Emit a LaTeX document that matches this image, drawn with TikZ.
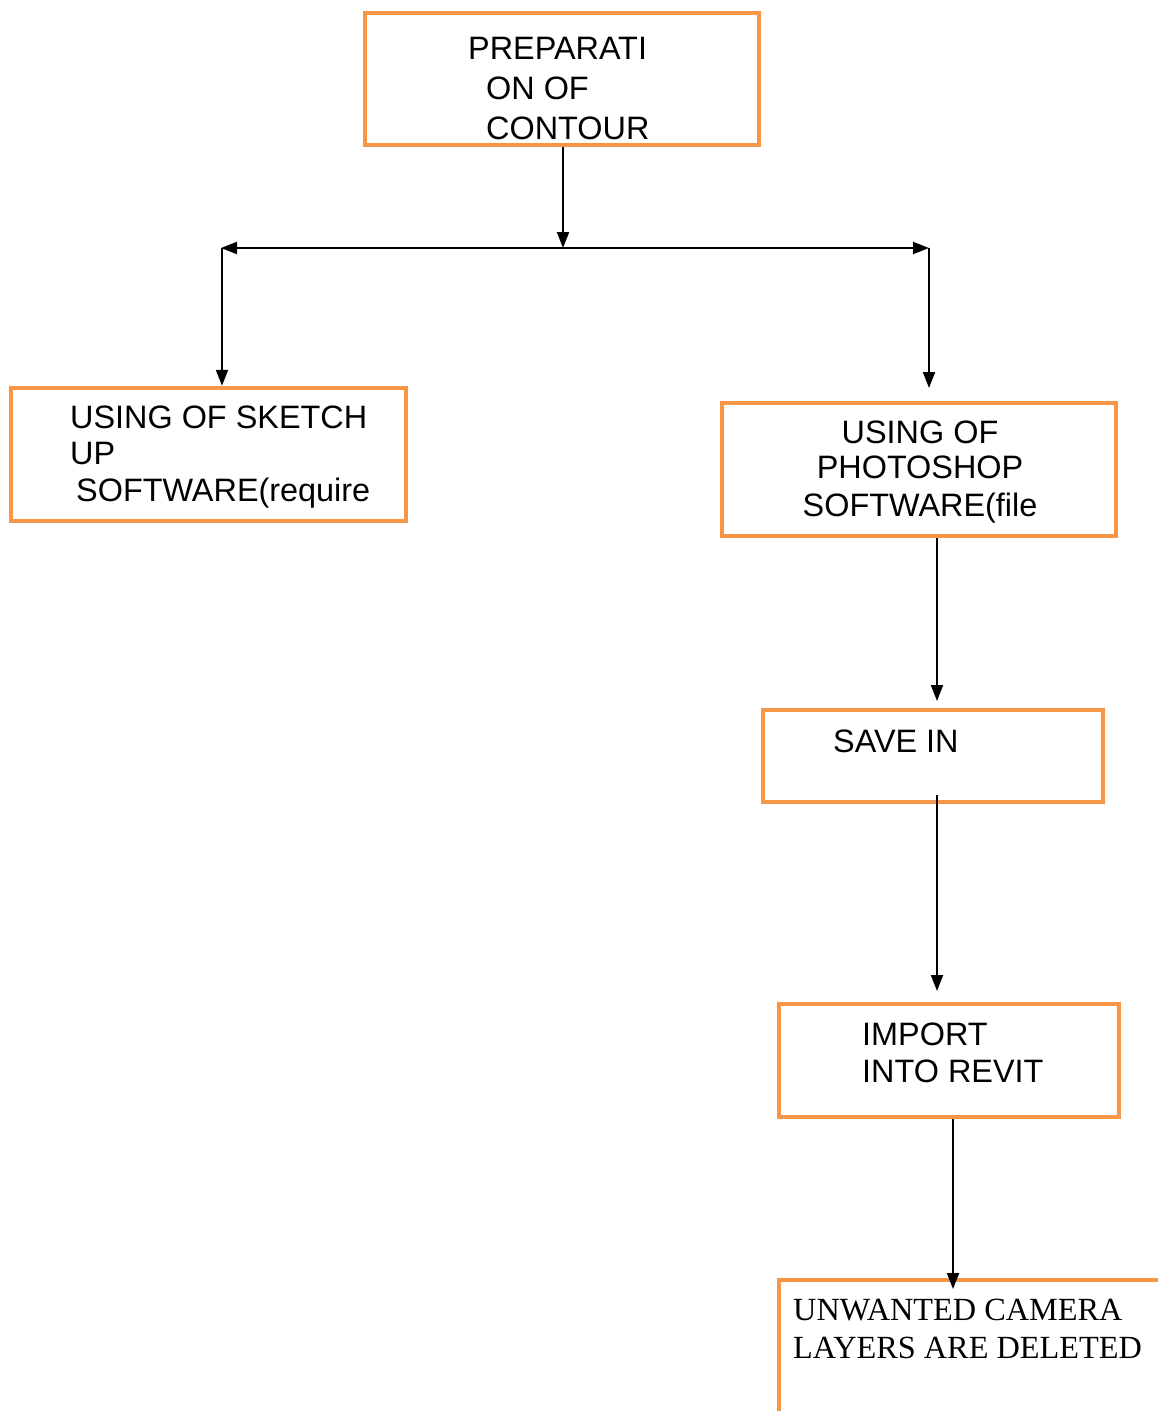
\documentclass[tikz,border=0pt]{standalone}
\usepackage{fontspec}
\setmainfont{Liberation Sans}
\newfontfamily\serifface{Liberation Serif}
\usetikzlibrary{arrows.meta}
\definecolor{boxorange}{HTML}{F79646}
\begin{document}
\begin{tikzpicture}[x=1pt,y=-1pt,
  box/.style={draw=boxorange,line width=4.5pt,rectangle,inner sep=0pt,fill=none},
  txt/.style={inner sep=0pt,anchor=base west,font=\fontsize{32.4}{38}\selectfont},
  ctxt/.style={txt,anchor=base},
  stxt/.style={inner sep=0pt,anchor=base west,font=\serifface\fontsize{32.3}{38}\selectfont},
  arr/.style={draw=black,line width=2pt,-{Triangle[length=16pt,width=12pt]}},
  darr/.style={draw=black,line width=2pt,{Triangle[length=16pt,width=12pt]}-{Triangle[length=16pt,width=12pt]}}]
\clip (0,0) rectangle (1158,1411);
\fill[white] (0,0) rectangle (1158,1411);
% boxes
\node[box,minimum width=394pt,minimum height=132pt] (prep) at (562,79) {};
\node[box,minimum width=395pt,minimum height=133pt] (sketch) at (208.5,454.5) {};
\node[box,minimum width=394pt,minimum height=133pt] (photo) at (919,469.5) {};
\node[box,minimum width=340pt,minimum height=92pt] (save) at (933,756) {};
\node[box,minimum width=340pt,minimum height=113pt] (import) at (949,1060.5) {};
\node[box,minimum width=500pt,minimum height=300pt] (unw) at (1029,1430) {};
% texts
\node[txt] (p1) at (468,59) {PREPARATI};
\node[txt] (p2) at (486,99) {ON OF};
\node[txt] (p3) at (486,139) {CONTOUR};
\node[txt] (s1) at (70,428) {USING OF SKETCH};
\node[txt] (s2) at (70,464) {UP};
\node[txt] (s3) at (76,501) {SOFTWARE(require};
\node[ctxt] (h1) at (920,443) {USING OF};
\node[ctxt] (h2) at (920,478) {PHOTOSHOP};
\node[ctxt] (h3) at (920,516) {SOFTWARE(file};
\node[txt] (v1) at (833,752) {SAVE IN};
\node[txt] (i1) at (862,1045) {IMPORT};
\node[txt] (i2) at (862,1082) {INTO REVIT};
\node[stxt] (u1) at (793,1320) {UNWANTED CAMERA};
\node[stxt] (u2) at (793,1358) {LAYERS ARE DELETED};
% connectors
\coordinate (mid) at (563,248);
\coordinate (hl) at (221,248);
\coordinate (hr) at (929,248);
\coordinate (lv) at (222,248);
\coordinate (rdown) at (929,388);
\coordinate (pdown) at (937,701);
\coordinate (sstart) at (937,795);
\coordinate (sdown) at (937,991);
\coordinate (idown) at (953,1289);
\draw[arr] (prep.south -| mid) -- (mid);
\draw[darr] (hl) -- (hr);
\draw[arr] (lv) -- (lv |- sketch.north);
\draw[arr] (hr) -- (rdown);
\draw[arr] (pdown |- photo.south) -- (pdown);
\draw[arr] (sstart) -- (sdown);
\draw[arr] (idown |- import.south) -- (idown);
\end{tikzpicture}
\end{document}
